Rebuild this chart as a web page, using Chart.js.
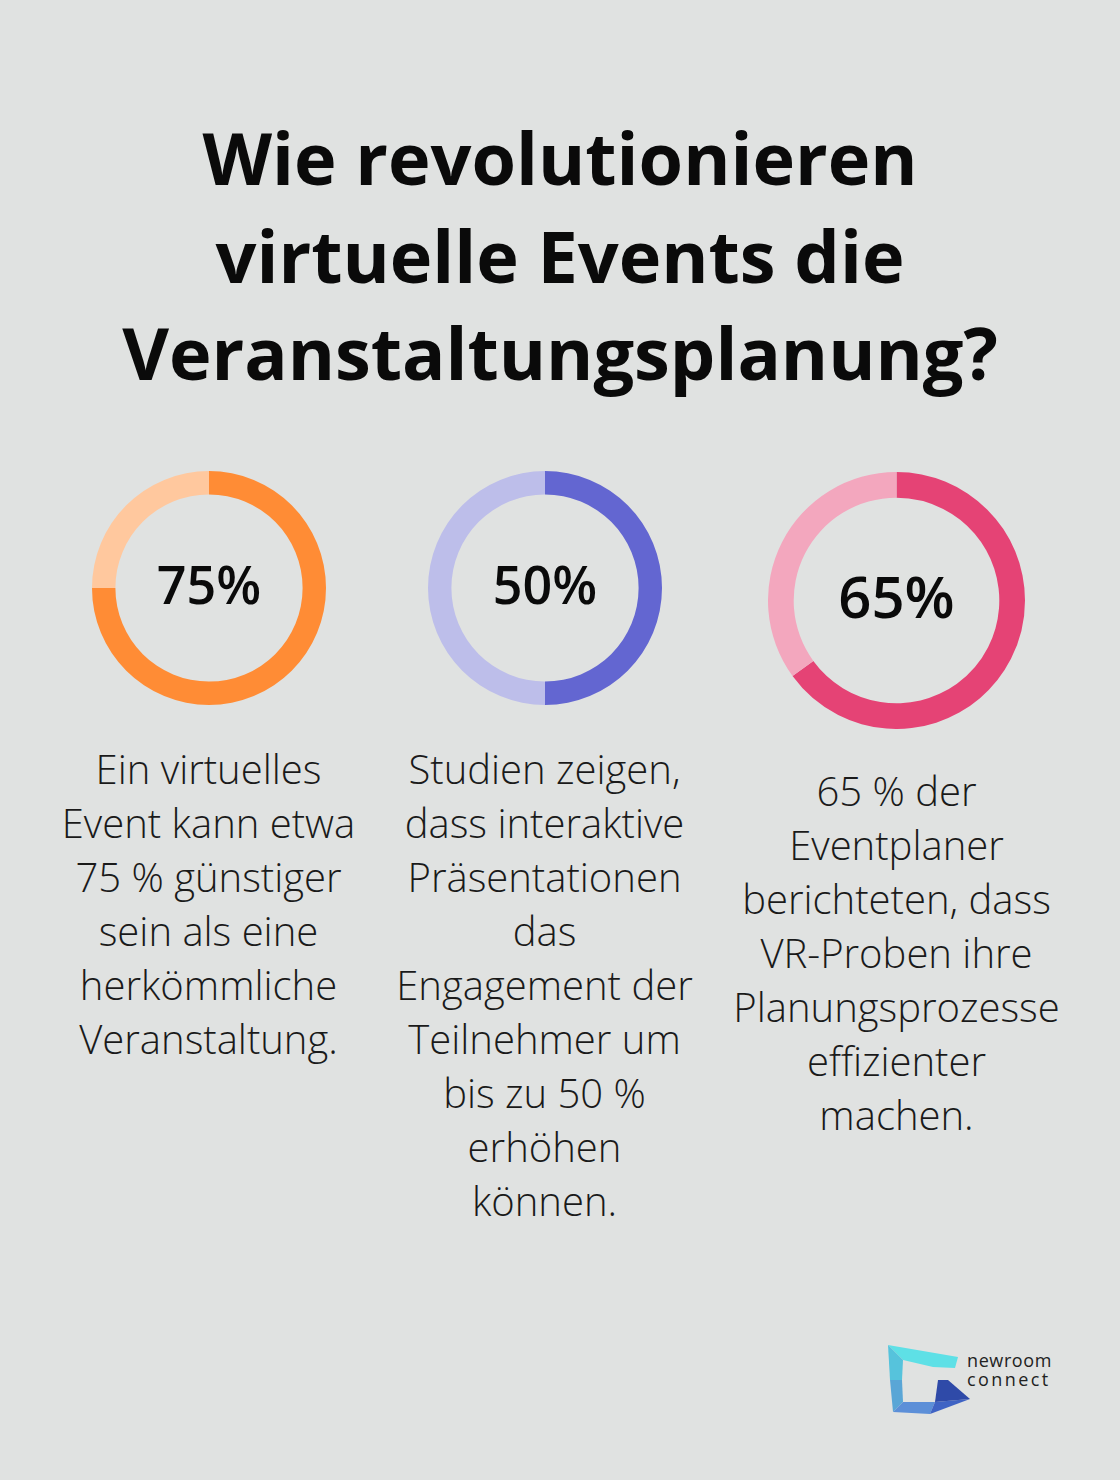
<!DOCTYPE html>
<html>
<head>
<meta charset="utf-8">
<script src="https://cdn.jsdelivr.net/npm/chart.js@4.4.0/dist/chart.umd.min.js"></script>
<style>
  html, body { margin: 0; padding: 0; }
  body { width: 1120px; height: 1480px; background: #e0e2e1; position: relative; overflow: hidden; font-family: "Open Sans", sans-serif; }
  #title { position: absolute; left: 0; top: 109px; width: 1120px; text-align: center; font-weight: 700; font-size: 72px; line-height: 97.5px; color: #0a0a0a; }
  .donut { position: absolute; }
  .caption { position: absolute; width: 380px; text-align: center; font-weight: 300; font-size: 40px; line-height: 54px; color: #1a1a1a; }
  #logo { position: absolute; left: 884px; top: 1340px; }
</style>
</head>
<body>
<div id="title">Wie revolutionieren<br>virtuelle Events die<br>Veranstaltungsplanung?</div>

<canvas id="donut0" class="donut"></canvas>
<canvas id="donut1" class="donut"></canvas>
<canvas id="donut2" class="donut"></canvas>

<div id="cap0" class="caption"></div>
<div id="cap1" class="caption"></div>
<div id="cap2" class="caption"></div>

<svg id="logo" width="180" height="80" viewBox="884 1340 180 80">
  <polygon points="888,1345 958,1357 955,1368 933,1367 903,1360" fill="#5ee0e6"/>
  <polygon points="888,1345 903,1360 902,1380 890,1380" fill="#56c3dc"/>
  <polygon points="890,1380 902,1380 903,1402 893,1412" fill="#5aa6d6"/>
  <polygon points="893,1412 903,1402 935,1402 930,1414" fill="#5c8fd8"/>
  <polygon points="930,1414 935,1402 970,1399" fill="#3f63c4"/>
  <polygon points="938,1380 948,1380 970,1399 935,1402" fill="#2f4aa8"/>
  <text font-family="Open Sans" font-size="18" fill="#222">
    <tspan x="967" y="1367" letter-spacing="0.6">newroom</tspan>
    <tspan x="967" y="1386" letter-spacing="2.4">connect</tspan>
  </text>
</svg>

<script>
// Werte der drei Ringe
var labels = ['75%', '50%', '65%'];
var values = [75, 50, 65];
var rest = [25, 50, 35];

var colorsDark = ['#ff8c35', '#6366d1', '#e54375'];
var colorsLight = ['#ffc89e', '#bdbeea', '#f3a7be'];

var captions = [
  ['Ein virtuelles', 'Event kann etwa', '75 % günstiger', 'sein als eine', 'herkömmliche', 'Veranstaltung.'],
  ['Studien zeigen,', 'dass interaktive', 'Präsentationen', 'das', 'Engagement der', 'Teilnehmer um', 'bis zu 50 %', 'erhöhen', 'können.'],
  ['65 % der', 'Eventplaner', 'berichteten, dass', 'VR-Proben ihre', 'Planungsprozesse', 'effizienter', 'machen.']
];

// layout of each donut
var boxes = [
  { cx: 208.5, cy: 588, size: 234, font: 52, capTop: 742 },
  { cx: 544.5, cy: 588, size: 234, font: 52, capTop: 742 },
  { cx: 896.5, cy: 600, size: 257, font: 58, capTop: 764 }
];

var centerText = {
  id: 'centerText',
  afterDraw: function(chart, args, opts) {
    var ctx = chart.ctx;
    var a = chart.getDatasetMeta(0).data[0];
    ctx.save();
    ctx.fillStyle = '#0a0a0a';
    ctx.font = '600 ' + opts.size + 'px "Open Sans"';
    ctx.textAlign = 'center';
    ctx.textBaseline = 'middle';
    ctx.fillText(opts.text, a.x, a.y + 1);
    ctx.restore();
  }
};

var charts = [];

makeDonut = function(i) {
  var b = boxes[i];
  var cv = document.getElementById('donut' + i);
  cv.style.left = (b.cx - b.size / 2) + 'px';
  cv.style.top = (b.cy - b.size / 2) + 'px';
  cv.style.width = b.size + 'px';
  cv.style.height = b.size + 'px';
  cv.width = b.size;
  cv.height = b.size;

  charts[i] = new Chart(cv.getContext('2d'), {
    type: 'doughnut',
    data: {
      labels: ['Anteil', 'Rest'],
      datasets: [{
        data: [values[i], rest[i]],
        backgroundColor: [colorsDark[i], colorsLight[i]],
        borderWidth: 0
      }]
    },
    options: {
      responsive: false,
      animation: false,
      cutout: '80%',
      layout: { padding: 0 },
      plugins: {
        legend: { display: false },
        tooltip: { enabled: false },
        centerText: { text: labels[i], size: b.font }
      }
    },
    plugins: [centerText]
  });

  var cap = document.getElementById('cap' + i);
  cap.style.left = (b.cx - 190) + 'px';
  cap.style.top = b.capTop + 'px';
  cap.innerHTML = captions[i].join('<br>');
};

for (var i = 0; i < 3; i++) {
  makeDonut(i);
}
</script>
</body>
</html>
